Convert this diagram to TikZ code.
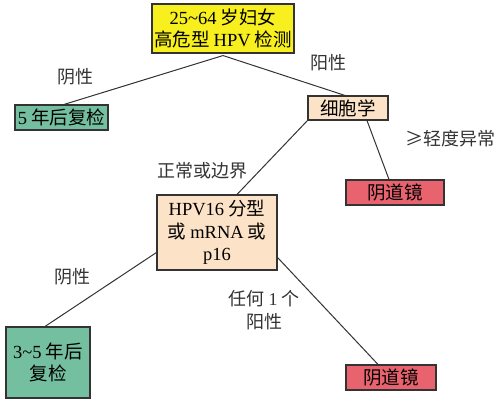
\documentclass[tikz,border=0pt]{standalone}
\usepackage{fontspec}
\setmainfont{Liberation Serif}
\newfontfamily\cjk{Noto Sans CJK SC}
\newcommand{\lat}[1]{{\rmfamily #1}}
\definecolor{cyellow}{HTML}{F7EF1E}
\definecolor{cgreen}{HTML}{74BF9F}
\definecolor{cpeach}{HTML}{FCE3C8}
\definecolor{cred}{HTML}{E8636E}
\definecolor{cline}{HTML}{333333}
\begin{document}
\begin{tikzpicture}[x=1pt,y=-1pt,
  box/.style={draw=cline,line width=1.1pt,rectangle,inner sep=0pt,align=center,
    font=\cjk\fontsize{18.5}{22.5}\selectfont},
  lbl/.style={inner sep=0pt,align=center,text=black!80,font=\cjk\fontsize{18}{23}\selectfont},
  conn/.style={draw=cline,line width=1pt}]
\useasboundingbox (0,0) rectangle (500,415);
\node[box,fill=cyellow,minimum width=142pt,minimum height=49pt] (top) at (223,28.5)
  {\lat{25\textasciitilde64} 岁妇女\\高危型 \lat{HPV} 检测};
\node[box,fill=cgreen,minimum width=93pt,minimum height=25pt] (neg1) at (61.5,117.5)
  {\lat{5} 年后复检};
\node[box,fill=cpeach,minimum width=80pt,minimum height=24pt] (cyto) at (348,108) {细胞学};
\node[box,fill=cred,minimum width=98pt,minimum height=25pt] (colpo1) at (395,192.5) {阴道镜};
\node[box,fill=cpeach,minimum width=120pt,minimum height=75pt] (hpv) at (217,232.5)
  {\lat{HPV16} 分型\\或 \lat{mRNA} 或\\\lat{p16}};
\node[box,fill=cgreen,minimum width=84pt,minimum height=71pt] (r35) at (48,362.5)
  {\lat{3\textasciitilde5} 年后\\复检};
\node[box,fill=cred,minimum width=90pt,minimum height=25pt] (colpo2) at (391,377.5) {阴道镜};
\draw[conn] ([yshift=-2pt]top.south) -- ([xshift=2.5pt]neg1.north);
\draw[conn] ([yshift=-2pt]top.south) -- ([xshift=-3pt]cyto.north);
\draw[conn] (cyto.south west) -- ([xshift=20pt]hpv.north);
\draw[conn] ([xshift=19pt]cyto.south) -- ([xshift=-6pt]colpo1.north);
\draw[conn] ([yshift=-20pt]hpv.west) -- ([xshift=-3pt]r35.north);
\draw[conn] ([yshift=-25pt]hpv.east) -- ([xshift=-13pt]colpo2.north);
\node[lbl] (l1) at (75,77) {阴性};
\node[lbl] (l2) at (328,63) {阳性};
\node[lbl] (l3) at (450,139) {≥轻度异常};
\node[lbl] (l4) at (202,171) {正常或边界};
\node[lbl] (l5) at (72,277) {阴性};
\node[lbl] (l6) at (264,310) {任何 \lat{1} 个\\阳性};
\end{tikzpicture}
\end{document}
